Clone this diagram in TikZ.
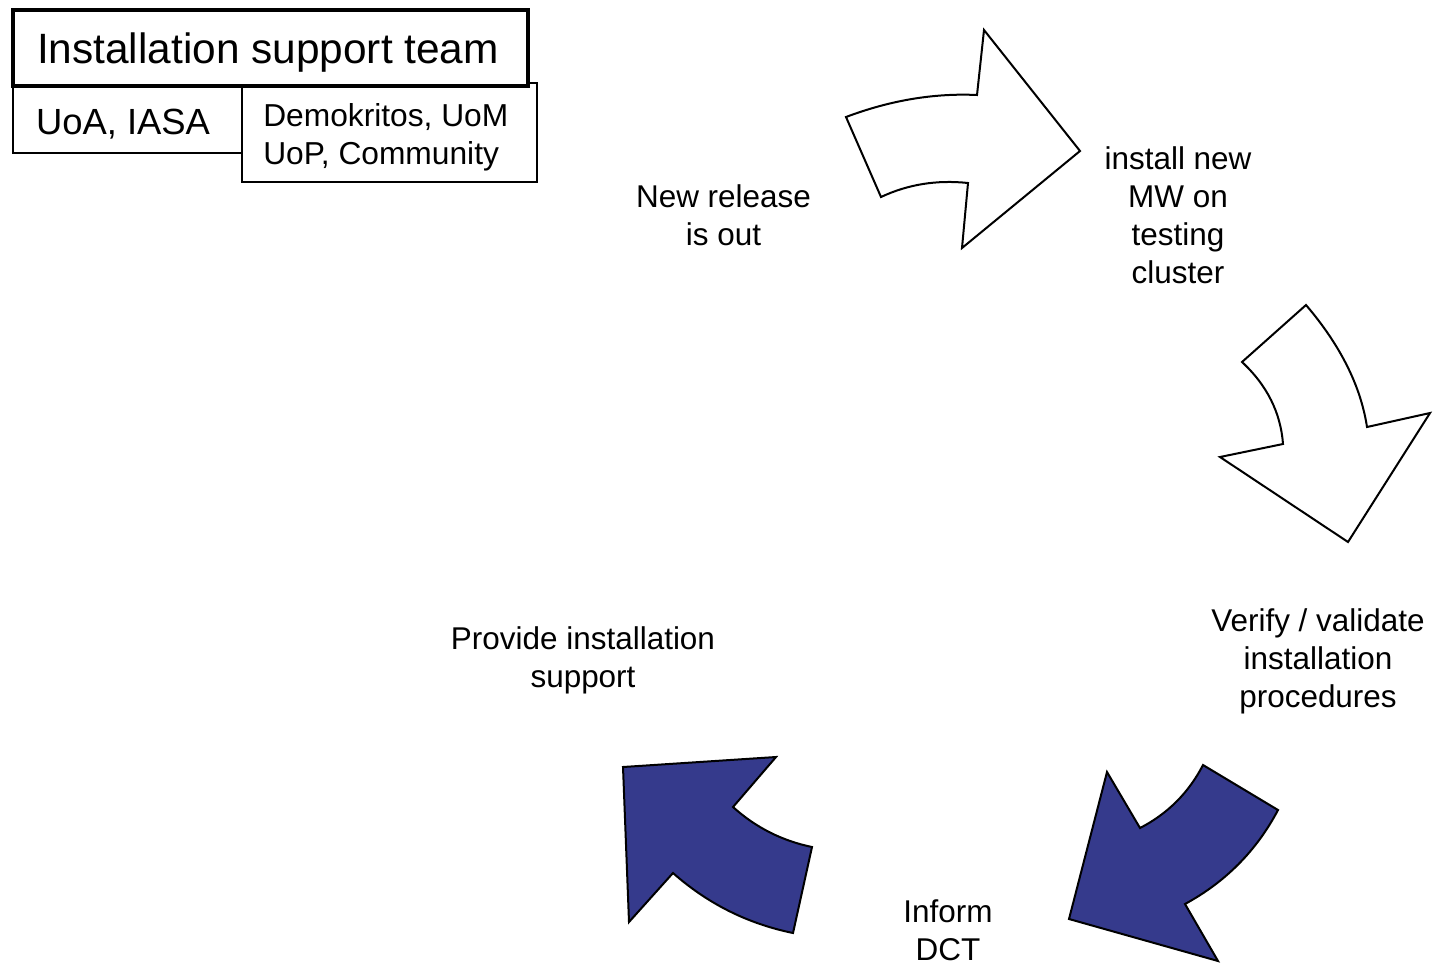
\documentclass[tikz,border=0pt]{standalone}
\usepackage{fontspec}
\setmainfont{Liberation Sans}
\definecolor{arrowblue}{RGB}{53,58,140}
\tikzset{
  whitearrow/.style={draw=black, fill=white, line width=1.5pt, line join=miter},
  bluearrow/.style={draw=black, fill=arrowblue, line width=1.5pt, line join=miter},
  thinbox/.style={draw=black, fill=white, line width=1.7pt},
  thickbox/.style={draw=black, fill=white, line width=3pt},
  lbl/.style={inner sep=0pt, align=center, font=\fontsize{23.6pt}{28.5pt}\selectfont, anchor=north},
}
\begin{document}
\begin{tikzpicture}[x=0.75pt, y=-0.75pt]
\useasboundingbox (0,0) rectangle (1434,964);

% header boxes
\draw[thinbox] (13,86) rectangle (242,153);
\draw[thinbox] (242,83) rectangle (537,182);
\draw[thickbox] (13,10) rectangle (528,86);
\node[inner sep=0pt, anchor=base, font=\fontsize{31.8pt}{38pt}\selectfont] (title) at (268,63.3) {Installation support team};
\node[inner sep=0pt, anchor=base, font=\fontsize{27.3pt}{33pt}\selectfont] (uoa) at (123,134) {UoA, IASA};
\node[inner sep=0pt, anchor=north west, align=left, font=\fontsize{23.8pt}{28.5pt}\selectfont] (demo) at (263,103.7) {Demokritos, UoM\\UoP, Community};

% arrows
\filldraw[whitearrow] (846,117) .. controls (890.3,100.3) and (934,93) .. (977,95)
  -- (984,30) -- (1080,151) -- (962,248) -- (968,183)
  .. controls (937,179.7) and (908,184.3) .. (881,197) -- cycle;

\filldraw[whitearrow] (1306,305) -- (1242,362)
  .. controls (1267,385.3) and (1280.7,412.7) .. (1283,444)
  -- (1220,457) -- (1348,542) -- (1430,413) -- (1367,427)
  .. controls (1360.7,385.9) and (1340.3,345.2) .. cycle;

\filldraw[bluearrow] (1107,772) -- (1140,828)
  .. controls (1167.7,813.7) and (1188.7,792.7) .. (1203,765)
  -- (1278,810) .. controls (1256.5,850.7) and (1225.5,882) .. (1185,904)
  -- (1218,961) -- (1069,919) -- cycle;

\filldraw[bluearrow] (623,767) -- (776,757) -- (733,807)
  .. controls (755.7,827.5) and (782.1,840.8) .. (812,847)
  -- (793,933) .. controls (747.7,923.7) and (707.7,903.7) .. (673,873)
  -- (629,922) -- cycle;

% labels
\node[lbl] (release) at (723.5,184.7) {New release\\is out};
\node[lbl] (install) at (1178,146.5) {install new\\MW on\\testing\hspace*{0.28em}\\cluster};
\node[lbl] (verify) at (1318,608) {Verify / validate\\installation\\procedures};
\node[lbl] (inform) at (948,899.7) {Inform\\DCT};
\node[lbl] (provide) at (583,626.7) {Provide installation\\support};
\end{tikzpicture}
\end{document}
